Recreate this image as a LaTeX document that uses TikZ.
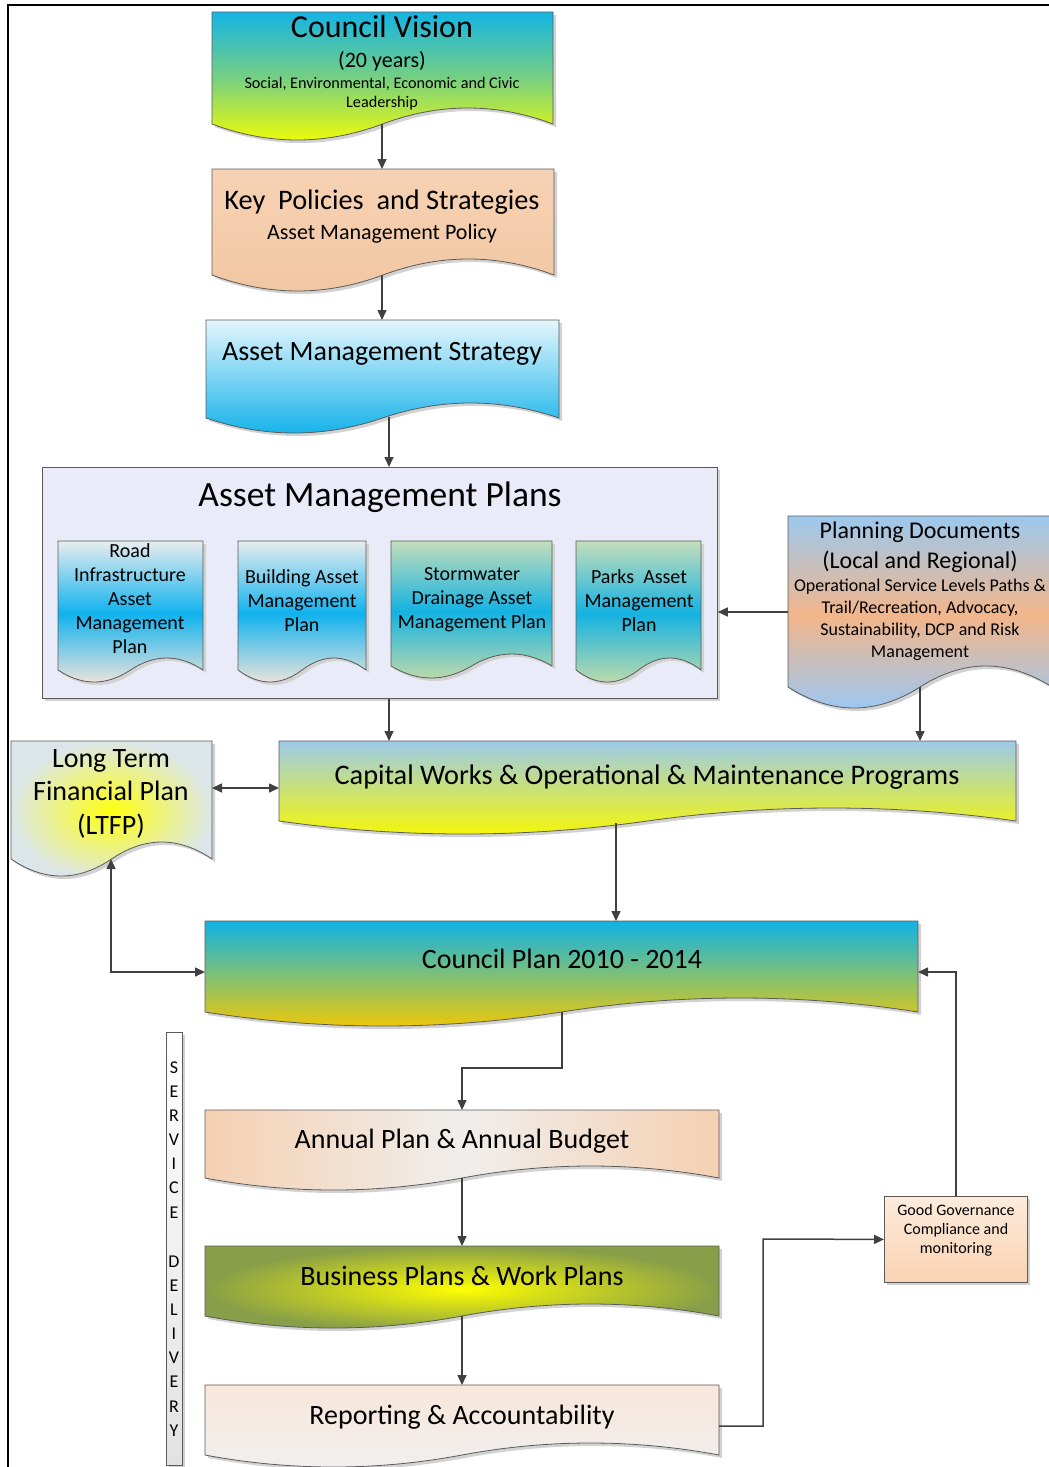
\documentclass[tikz,border=0pt]{standalone}
\usepackage{fontspec}
\setmainfont{Carlito}
\usetikzlibrary{arrows.meta}
\definecolor{arrowgray}{HTML}{404040}
\definecolor{outl}{HTML}{5A5A5A}
\definecolor{shad}{HTML}{D2D2D2}
\definecolor{cvtop}{HTML}{14B4E4}
\definecolor{cvmid}{HTML}{78D080}
\definecolor{cvbot}{HTML}{F6FF00}
\definecolor{kptop}{HTML}{F6D2B4}
\definecolor{kpbot}{HTML}{F2C7A2}
\definecolor{amstop}{HTML}{E4F6FC}
\definecolor{amsbot}{HTML}{0EB0EA}
\definecolor{ampfill}{HTML}{E9ECF8}
\definecolor{rdtop}{HTML}{E8EDEE}
\definecolor{rdmid}{HTML}{10B2EE}
\definecolor{rdbot}{HTML}{F6E6DA}
\definecolor{swtop}{HTML}{C4DEBA}
\definecolor{swmid}{HTML}{14B2E2}
\definecolor{swbot}{HTML}{C6DCA8}
\definecolor{pdtop}{HTML}{9CC8EE}
\definecolor{pdmid}{HTML}{F2B68A}
\definecolor{pdbot}{HTML}{98C8F8}
\definecolor{cwtop}{HTML}{9CCBEA}
\definecolor{cwbot}{HTML}{F8F800}
\definecolor{ltin}{HTML}{FFFF10}
\definecolor{ltout}{HTML}{DCE6E8}
\definecolor{cptop}{HTML}{10B2E4}
\definecolor{cpmid}{HTML}{80C076}
\definecolor{cpbot}{HTML}{F6C800}
\definecolor{apside}{HTML}{F5D0B2}
\definecolor{apmid}{HTML}{F0EEEC}
\definecolor{bpin}{HTML}{FFFF00}
\definecolor{bpout}{HTML}{889E48}
\definecolor{ratop}{HTML}{F8E6DA}
\definecolor{rabot}{HTML}{F0F0F0}
\definecolor{ggtop}{HTML}{FDEBDC}
\definecolor{ggbot}{HTML}{FAD3B2}
\definecolor{sdbot}{HTML}{E2E2E2}

\newcommand{\setfs}[1]{\fontsize{#1}{#1}\selectfont}
\newcommand{\docshape}[6]{%
  \fill[shad, shift={(3,3)}] (#1,#2) -- (#3,#2) -- (#3,#4)
    .. controls ({#3-(#3-#1)/6},{#4-4/3*#5}) and ({#3-(#3-#1)/3},{#4-4/3*#5}) .. ({(#1+#3)/2},#4)
    .. controls ({#1+(#3-#1)/3},{#4+4/3*#5}) and ({#1+(#3-#1)/6},{#4+4/3*#5}) .. (#1,#4) -- cycle;
  \path[docline,#6] (#1,#2) -- (#3,#2) -- (#3,#4)
    .. controls ({#3-(#3-#1)/6},{#4-4/3*#5}) and ({#3-(#3-#1)/3},{#4-4/3*#5}) .. ({(#1+#3)/2},#4)
    .. controls ({#1+(#3-#1)/3},{#4+4/3*#5}) and ({#1+(#3-#1)/6},{#4+4/3*#5}) .. (#1,#4) -- cycle;}
\newcommand{\tline}[5]{\node[txt,font=\setfs{#4}] (#1) at (#2,#3) {#5};}

\begin{document}
\begin{tikzpicture}[x=1pt,y=-1pt,
  txt/.style={inner sep=0pt, anchor=base, text=black},
  docline/.style={draw=outl, line width=0.8pt},
  conn/.style={draw=arrowgray, line width=1.5pt, -{Triangle[length=10pt,width=9pt]}},
  connboth/.style={draw=arrowgray, line width=1.5pt, {Triangle[length=10pt,width=9pt]}-{Triangle[length=10pt,width=9pt]}},
  boxline/.style={draw=outl, line width=0.8pt}]
\useasboundingbox (0,0) rectangle (1049,1467);
\clip (0,0) rectangle (1049,1467);

% frame
\draw[line width=2.5pt, black] (8,1470) -- (8,5) -- (1052,5);

% main document shapes
\docshape{212}{12}{553}{124}{16}{top color=cvtop, bottom color=cvbot, middle color=cvmid}
\docshape{212}{169}{554}{275}{16}{top color=kptop, bottom color=kpbot}
\docshape{206}{320}{559}{418}{15}{top color=amstop, bottom color=amsbot}

% asset management plans container
\fill[shad] (45,470) rectangle (720,701);
\node[boxline, fill=ampfill, minimum width=675, minimum height=231, anchor=north west, inner sep=0pt] (amp) at (42,467) {};

\docshape{58}{541}{203}{670}{12}{top color=rdtop, bottom color=rdbot, middle color=rdmid}
\docshape{238}{541}{366}{670}{12}{top color=rdtop, bottom color=rdbot, middle color=rdmid}
\docshape{391}{541}{552}{666}{12}{top color=swtop, bottom color=swbot, middle color=swmid}
\docshape{576}{541}{701}{670}{12}{top color=swtop, bottom color=swbot, middle color=swmid}

\docshape{788}{516}{1052}{687}{21}{top color=pdtop, bottom color=pdbot, middle color=pdmid}
\docshape{279}{741}{1016}{821}{13}{top color=cwtop, bottom color=cwbot}
\docshape{11}{741}{212}{859}{17}{inner color=ltin, outer color=ltout}
\docshape{205}{921}{918}{1012}{14}{top color=cptop, bottom color=cpbot, middle color=cpmid}
\docshape{205}{1110}{719}{1178}{12}{left color=apside, right color=apside, middle color=apmid}
\docshape{205}{1246}{719}{1316}{12}{inner color=bpin, outer color=bpout}
\docshape{205}{1385}{719}{1455}{12}{top color=ratop, bottom color=rabot}

% good governance box
\fill[shad] (887,1199) rectangle (1030,1285);
\node[boxline, top color=ggtop, bottom color=ggbot, minimum width=143, minimum height=86, anchor=north west, inner sep=0pt] (gg) at (884,1196) {};

% service delivery bar
\fill[shad] (169,1035) rectangle (185,1470);
\node[boxline, top color=white, bottom color=sdbot, minimum width=16, minimum height=433, anchor=north west, inner sep=0pt] (sdbar) at (166,1032) {};

% connection points
\coordinate (cv-s) at (382,124);
\coordinate (kp-n) at (382,169);
\coordinate (kp-s) at (382,275);
\coordinate (ams-n) at (382,320);
\coordinate (ams-s) at (389,417);
\coordinate (pd-w) at (788,612);
\coordinate (pd-s) at (920,687);
\coordinate (cw-n1) at (389,741);
\coordinate (cw-n2) at (920,741);
\coordinate (cw-w) at (279,788);
\coordinate (cw-s) at (616,823);
\coordinate (ltfp-e) at (212,788);
\coordinate (ltfp-s) at (111,859);
\coordinate (cp-n) at (616,921);
\coordinate (cp-w) at (205,972);
\coordinate (cp-e) at (918,972);
\coordinate (cp-s) at (562,1012);
\coordinate (cpap) at (462,1068);
\coordinate (ap-n) at (462,1110);
\coordinate (ap-s) at (462,1178);
\coordinate (bp-n) at (462,1246);
\coordinate (bp-s) at (462,1316);
\coordinate (ra-n) at (462,1385);
\coordinate (ra-e) at (719,1426);
\coordinate (rabend) at (763,1239);

% connectors
\draw[conn] (cv-s) -- (kp-n);
\draw[conn] (kp-s) -- (ams-n);
\draw[conn] (ams-s) -- (ams-s |- amp.north);
\draw[conn] (pd-w) -- (pd-w -| amp.east);
\draw[conn] (amp.south -| cw-n1) -- (cw-n1);
\draw[conn] (pd-s) -- (cw-n2);
\draw[connboth] (ltfp-e) -- (cw-w);
\draw[conn] (cw-s) -- (cp-n);
\draw[connboth] (ltfp-s) |- (cp-w);
\draw[conn] (cp-s) |- (cpap) -- (ap-n);
\draw[conn] (ap-s) -- (bp-n);
\draw[conn] (bp-s) -- (ra-n);
\draw[conn] (ra-e) -| (rabend) -- (gg.west);
\draw[conn] (gg.north) |- (cp-e);

% texts
\tline{cv1}{382}{37}{32}{Council Vision}
\tline{cv2}{382}{67}{22}{(20 years)}
\tline{cv3}{382}{88}{16.2}{Social, Environmental, Economic and Civic}
\tline{cv4}{382}{107}{16.2}{Leadership}

\tline{kp1}{382}{209}{28.3}{Key~~Policies~~and Strategies}
\tline{kp2}{382}{239}{22}{Asset Management Policy}

\tline{ams1}{382}{360}{28}{Asset Management Strategy}

\tline{amp1}{380}{506}{35.5}{Asset Management Plans}

\tline{rd1}{130}{557}{20}{Road}
\tline{rd2}{130}{581}{20}{Infrastructure}
\tline{rd3}{130}{605}{20}{Asset}
\tline{rd4}{130}{629}{20}{Management}
\tline{rd5}{130}{653}{20}{Plan}

\tline{bd1}{302}{583}{20}{Building Asset}
\tline{bd2}{302}{607}{20}{Management}
\tline{bd3}{302}{631}{20}{Plan}

\tline{sw1}{472}{580}{20}{Stormwater}
\tline{sw2}{472}{604}{20}{Drainage Asset}
\tline{sw3}{472}{628}{20}{Management Plan}

\tline{pk1}{639}{583}{20}{Parks~~Asset}
\tline{pk2}{639}{607}{20}{Management}
\tline{pk3}{639}{631}{20}{Plan}

\tline{pd1}{920}{538}{24}{Planning Documents}
\tline{pd2}{920}{568}{24}{(Local and Regional)}
\tline{pd3}{920}{591}{18}{Operational Service Levels Paths \&}
\tline{pd4}{920}{613}{18}{Trail/Recreation, Advocacy,}
\tline{pd5}{920}{635}{18}{Sustainability, DCP and Risk}
\tline{pd6}{920}{657}{18}{Management}

\tline{cw1}{647}{784}{28.3}{Capital Works \& Operational \& Maintenance Programs}

\tline{lt1}{111}{767}{28}{Long Term}
\tline{lt2}{111}{800}{28}{Financial Plan}
\tline{lt3}{111}{834}{28}{(LTFP)}

\tline{cp1}{562}{968}{28}{Council Plan 2010 - 2014}
\tline{ap1}{462}{1148}{28}{Annual Plan \& Annual Budget}
\tline{bp1}{462}{1285}{28}{Business Plans \& Work Plans}
\tline{ra1}{462}{1424}{28}{Reporting \& Accountability}

\tline{gg1}{956}{1215}{16}{Good Governance}
\tline{gg2}{956}{1234}{16}{Compliance and}
\tline{gg3}{956}{1253}{16}{monitoring}

\foreach \ch/\yy [count=\i] in {S/1067,E/1091,R/1115,V/1139,I/1163,C/1187,E/1212,D/1261,E/1285,L/1309,I/1333,V/1357,E/1381,R/1406,Y/1430}{
  \node[txt, font=\setfs{18}] (sd\i) at (174,\yy+6) {\ch};
}
\end{tikzpicture}
\end{document}
